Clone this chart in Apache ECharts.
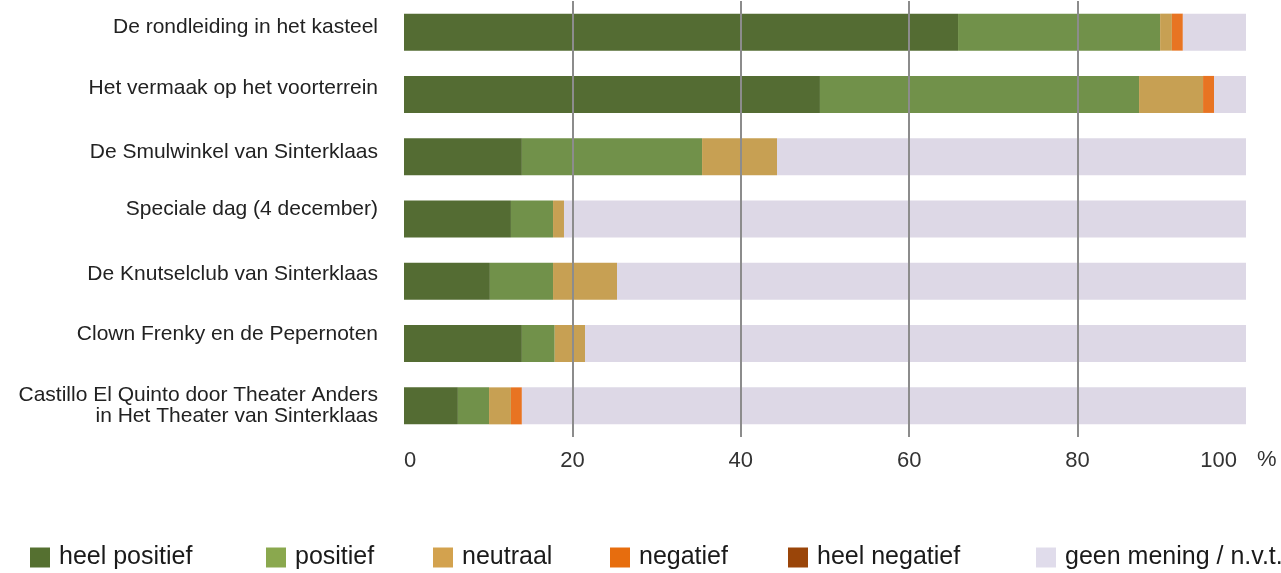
<!DOCTYPE html>
<html>
<head>
<meta charset="utf-8">
<script src="https://cdn.jsdelivr.net/npm/echarts@6/dist/echarts.min.js"></script>
<style>
html,body{margin:0;padding:0;background:#fff;}
#chart{width:1281px;height:573px;}
</style>
</head>
<body>
<div id="chart"></div>
<script>
const categories = [
  'De rondleiding in het kasteel',
  'Het vermaak op het voorterrein',
  'De Smulwinkel van Sinterklaas',
  'Speciale dag (4 december)',
  'De Knutselclub van Sinterklaas',
  'Clown Frenky en de Pepernoten',
  'Castillo El Quinto door Theater Anders\nin Het Theater van Sinterklaas'
];
const seriesNames = ['heel positief', 'positief', 'neutraal', 'negatief', 'heel negatief', 'geen mening / n.v.t.'];
const heelPositief = [65.8, 49.4, 14.0, 12.7, 10.2, 14.0, 6.4];
const positief     = [24.0, 37.9, 21.4, 5.0, 7.5, 3.9, 3.7];
const neutraal     = [1.4, 7.6, 8.9, 1.3, 7.6, 3.6, 2.6];
const negatief     = [1.3, 1.3, 0, 0, 0, 0, 1.3];
const heelNegatief = [0, 0, 0, 0, 0, 0, 0];
const geenMening   = [7.5, 3.8, 55.7, 81.0, 74.7, 78.5, 86.0];
const xTicks = [0, 20, 40, 60, 80, 100];

const barColors = ['#546C33', '#71914A', '#C7A053', '#E87422', '#9A4A0A', '#DDD8E6'];
const legendColors = ['#557030', '#8AA84E', '#D3A24E', '#E76D0E', '#9A4509', '#E0DCEB'];
const legendLeft = [30, 266, 433, 610, 788, 1036];
const labelRaise = [5, 6, 5, 10, 7, 9, 0];
const values = [heelPositief, positief, neutraal, negatief, heelNegatief, geenMening];

const FONT = '"Liberation Sans", Arial, sans-serif';
const chart = echarts.init(document.getElementById('chart'), null, {renderer: 'canvas'});

const legends = seriesNames.map((n, i) => ({
  left: legendLeft[i], top: 545, padding: 0,
  itemWidth: 20, itemHeight: 20, icon: 'rect',
  selectedMode: false,
  textStyle: {fontFamily: FONT, fontSize: 25, color: '#1a1a1a', padding: [0, 0, 0, 4]},
  data: [{name: n, itemStyle: {color: legendColors[i]}}]
}));

const richY = {};
labelRaise.forEach((r, i) => {
  richY['s' + i] = {fontFamily: FONT, fontSize: 21, color: '#222', lineHeight: 21, align: 'right', padding: [0, 0, 2 * r, 0]};
});

chart.setOption({
  animation: false,
  grid: {left: 404, width: 842, top: 1, height: 436, containLabel: false},
  legend: legends,
  xAxis: [{
    type: 'value', min: 0, max: 100, interval: 20,
    axisLine: {show: false}, axisTick: {show: false}, splitLine: {show: false},
    axisLabel: {
      fontFamily: FONT, fontSize: 22, color: '#333', margin: 13,
      alignMinLabel: 'left', alignMaxLabel: 'right',
      formatter: v => xTicks.includes(v) ? (v === 100 ? '{m|' + v + '}' : String(v)) : '',
      rich: {m: {fontFamily: FONT, fontSize: 22, color: '#333', padding: [0, 9, 0, 0]}}
    }
  }, {
    type: 'value', min: 0, max: 100, interval: 20, z: 5, position: 'bottom',
    axisLine: {show: false}, axisTick: {show: false}, axisLabel: {show: false},
    splitLine: {show: true, showMinLine: false, showMaxLine: false, lineStyle: {color: '#8C8C8C', width: 2}}
  }],
  yAxis: {
    type: 'category', data: categories, inverse: true,
    axisLine: {show: false}, axisTick: {show: false}, splitLine: {show: false},
    axisLabel: {
      fontFamily: FONT, fontSize: 21, color: '#222', margin: 26, lineHeight: 21, align: 'right',
      formatter: (v, i) => v.split('\n').map(l => '{s' + i + '|' + l + '}').join('\n'),
      rich: richY
    }
  },
  series: seriesNames.map((n, i) => ({
    name: n, type: 'bar', stack: 'total', barWidth: 37,
    itemStyle: {color: barColors[i]},
    data: values[i]
  })),
  graphic: [{
    type: 'text', left: 1257, top: 449,
    style: {text: '%', font: '22px ' + FONT, fill: '#333'}
  }]
});
</script>
</body>
</html>
